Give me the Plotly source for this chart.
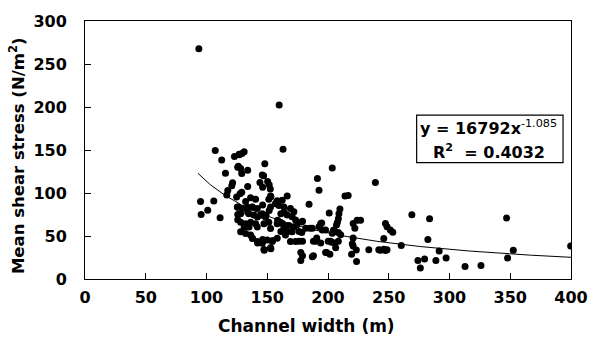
import numpy as np
import plotly.graph_objects as go

# Channel width (m) and mean shear stress (N/m^2)
width_m = [
    93.7, 95.1, 95.6, 101, 106, 111.2, 107.2, 112.5, 115.6, 116.7, 117.5, 120.8, 121.5,
    123, 124.8, 125.7, 125.7, 125.7, 125.7,
    127, 129.2, 131, 126.8, 126.2, 129, 133.9, 128.1, 148, 147, 145.9, 144, 150.3, 151.6,
    146.2, 152.5, 133.9, 129, 127.6, 159.8, 163, 191.3, 192.6, 203.5, 239,
    136.3, 140.4, 132.2, 152.7, 151.3, 166.4, 158.2, 162.3, 159.6, 163.7, 156.8, 152.7,
    169.1, 166.4, 170.5, 173.3, 171.9, 125.4, 129.5, 133.6, 137.7, 141.8, 128.1, 134.9,
    139, 145.9, 148.6, 141.8,
    128.1, 132.2, 136.3, 140.4, 131, 135, 141.8, 147.3, 151.3, 152.7, 158.2, 160.9, 163.7,
    167.8, 171.9, 170.5, 166.4,
    128.1, 132.2, 136.3, 137.7, 141.8, 145.9, 150, 154.1, 152.7, 147.3, 158.2, 165, 169.1, 173.3,
    161.2, 163.9, 161.2, 165.2, 158.5, 162.5, 144.8, 149, 138, 133.9, 146.2, 151.6,
    138, 142, 146.2, 154.4, 147.5, 153, 157.1, 153,
    176.2, 179, 181.7, 187.1, 192.6, 198, 176.2, 179, 184.4, 190, 198, 177.6, 179, 177.6,
    187.1, 178.4, 185.2, 174.3, 194, 178.4, 190.7, 188, 188,
    201, 209.8, 209, 208.5, 207.7, 214, 216.6, 207, 204.4, 208.5, 220.7, 200.2, 203, 205.7,
    208.5, 198.9, 201.6, 206.3, 220.7, 220.7, 219.4, 224, 226.8, 222.1, 223.3, 223.5, 220,
    194.8, 195.3, 204.9, 203.5, 210.4, 194, 202.2,
    233.6, 241.8, 243.1, 247.3, 245.9, 248.6, 245.9, 247.3, 248.6, 251.3, 253.3, 260.3, 269,
    283.6, 282.2, 291.5, 274, 279.5, 276, 288.8, 297.2, 312.8, 325.9, 347, 347.8, 352.5, 399.7,
]
shear_stress = [
    267.6, 90, 75, 80, 90.8, 71.3, 149.5, 138.5, 123, 97.6, 103, 108.4, 112,
    142.5, 95.3, 130, 83.3, 75, 69,
    144.5, 146, 148, 145, 131, 122.7, 126.5, 128.4, 134, 120, 121, 112.3, 113.4, 109.6,
    106.6, 104.7, 107.7, 101, 99.2, 202.3, 151, 117, 103.3, 129.2, 112.3,
    94.6, 92.7, 90, 96.5, 92.7, 96.5, 90.9, 91.6, 85.6, 83.7, 87.4, 83.7,
    81.9, 74.4, 72.5, 68.7, 78.2, 83.7, 81.9, 83.7, 83.7, 81.9, 75.9, 75.9,
    74.4, 75.9, 72.2, 72.2,
    66.1, 64.2, 66.1, 64.2, 60.4, 60.4, 60.4, 64.2, 66.1, 58.6, 64.2, 66.1, 60.4,
    62.3, 60.4, 54.8, 54.8,
    54.8, 53, 51.1, 47.3, 43.5, 41.7, 45.4, 43.5, 36.3, 34.4, 47.3, 51.1, 43.5, 43.5,
    75.8, 77.7, 55.2, 55.2, 68.4, 64.5, 74, 74, 83.3, 77.7, 86, 79.6,
    47, 42, 45.8, 44.7, 33.4, 35.2, 88.2, 95.7,
    55.2, 67.2, 58.9, 58.9, 60.8, 57.1, 43.9, 43.9, 87, 43.9, 30.7, 30.7, 27, 21.4,
    25.9, 66.4, 58.9, 62.7, 64.5, 54, 47.6, 43.9, 27,
    76.6, 81.4, 75.8, 70.2, 65.7, 96.5, 97.2, 62.7, 56.3, 54, 64.5, 43.9, 42.8, 42,
    43.9, 30.7, 28.9, 36.4, 47.6, 38.3, 28.9, 68.4, 68.4, 58.9, 33.8, 20.3, 40.9,
    65.1, 57.1, 57.1, 53.3, 51.5, 42, 43.9,
    34, 34, 33.5, 33, 34.5, 34, 47, 64.5, 60.8, 57.1, 54.4, 39, 74.7,
    70.2, 45.8, 32.7, 21.4, 23.3, 12.7, 21.4, 24.4, 14.6, 15.8, 70.9, 24.4, 33.4, 38.3,
]

# Power-law fit shown on the chart
fit_a = 16792
fit_b = -1.085
fit_r2 = 0.4032
fit_x_range = [93, 400]

x_ticks = [0, 50, 100, 150, 200, 250, 300, 350, 400]
y_ticks = [0, 50, 100, 150, 200, 250, 300]

fit_x = np.linspace(fit_x_range[0], fit_x_range[1], 200)
fit_y = fit_a * fit_x ** fit_b

FONT = "DejaVu Sans"

fig = go.Figure()
fig.add_trace(go.Scatter(
    x=fit_x, y=fit_y, mode="lines",
    line=dict(color="black", width=1), hoverinfo="skip", showlegend=False,
))
fig.add_trace(go.Scatter(
    x=width_m, y=shear_stress, mode="markers",
    marker=dict(color="black", size=7, line=dict(width=0)), showlegend=False,
))

axis_common = dict(
    showline=True, linecolor="black", linewidth=1, mirror=True,
    ticks="inside", ticklen=6, tickcolor="black", tickwidth=1,
    showgrid=False, zeroline=False,
    tickfont=dict(family=FONT, size=16, color="black", weight="bold"),
)

fig.update_layout(
    width=600, height=343,
    margin=dict(l=85, r=27, t=13, b=64),
    paper_bgcolor="white", plot_bgcolor="white",
    xaxis=dict(range=[0, 400], tickvals=x_ticks, ticklabelstandoff=4, **axis_common),
    yaxis=dict(range=[0, 300], tickvals=y_ticks, ticklabelstandoff=14, **axis_common),
    font=dict(family=FONT, color="black"),
)

# Axis titles
fig.add_annotation(
    text="Channel width (m)", xref="paper", yref="paper",
    x=(307 - 85) / 488, y=(279 - 327) / 266, xanchor="center", yanchor="middle",
    showarrow=False, font=dict(family=FONT, size=17, color="black", weight="bold"),
)
fig.add_annotation(
    text="Mean shear stress (N/m<sup>2</sup>)", xref="paper", yref="paper",
    x=(17 - 85) / 488, y=(279 - 152) / 266, xanchor="center", yanchor="middle",
    textangle=-90, showarrow=False,
    font=dict(family=FONT, size=16.5, color="black", weight="bold"),
)

# Equation box
fig.add_shape(
    type="rect", xref="paper", yref="paper",
    x0=(418 - 85) / 488, x1=(565 - 85) / 488,
    y0=(279 - 159) / 266, y1=(279 - 110) / 266,
    line=dict(color="black", width=1.2), fillcolor="white", layer="above",
)
fig.add_annotation(
    text=f"y = {fit_a}x<sup><span style='font-weight:normal'>{fit_b}</span></sup>",
    xref="paper", yref="paper",
    x=(490 - 85) / 488, y=(279 - 123) / 266, xanchor="center", yanchor="middle",
    showarrow=False, font=dict(family=FONT, size=16, color="black", weight="bold"),
)
fig.add_annotation(
    text=f"R<sup>2</sup>  = {fit_r2}", xref="paper", yref="paper",
    x=(491 - 85) / 488, y=(279 - 148) / 266, xanchor="center", yanchor="middle",
    showarrow=False, font=dict(family=FONT, size=16, color="black", weight="bold"),
)

fig.write_html("out.html")
